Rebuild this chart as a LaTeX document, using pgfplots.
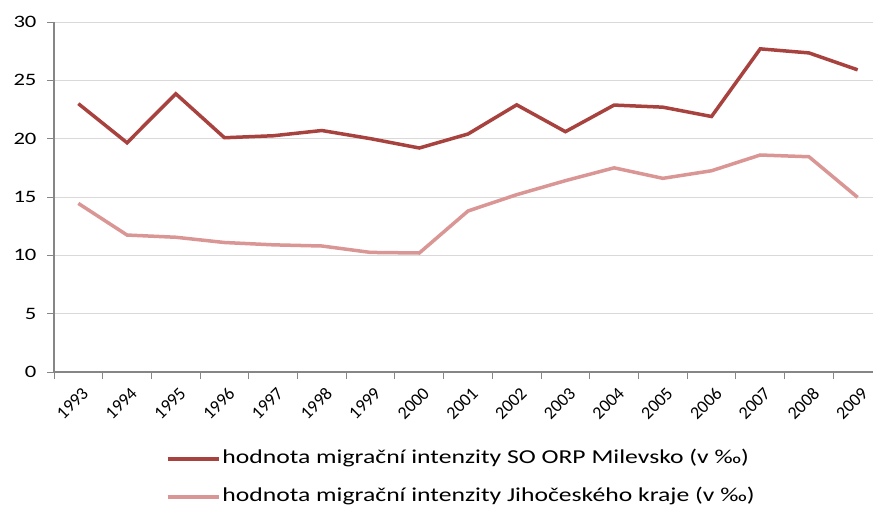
\documentclass[border=0pt]{standalone}
\usepackage{pgfplots}
\pgfplotsset{compat=1.18}
\usepackage{fontspec}
\setmainfont{Carlito}
\newfontfamily\stretchfont{Carlito}[FakeStretch=1.3]
\definecolor{dark}{HTML}{A8423F}
\definecolor{light}{HTML}{D99694}
\definecolor{gridc}{HTML}{D9D9D9}
\definecolor{axisgray}{HTML}{868686}
\begin{document}
\begin{tikzpicture}
\begin{axis}[
  at={(54bp,-372bp)}, anchor=south west,
  scale only axis, width=828bp, height=350bp,
  xmin=-0.5, xmax=16.5, ymin=0, ymax=30,
  axis x line*=bottom, axis y line*=left,
  axis line style={axisgray, line width=1.2bp, -},
  xtick={0,...,16},
  xticklabels={1993,1994,1995,1996,1997,1998,1999,2000,2001,2002,2003,2004,2005,2006,2007,2008,2009},
  major x tick style={draw=none},
  minor xtick={-0.5,0.5,...,16.5},
  ytick={0,5,...,30},
  ymajorgrids, grid style={gridc, line width=1bp},
  tick align=outside, major tick length=7bp, minor tick length=7bp,
  tick style={axisgray, line width=1bp},
  /pgf/number format/assume math mode=true,
  yticklabel style={font=\stretchfont\fontsize{17.5}{20}\selectfont, text=black, xshift=-7bp},
  xticklabel style={font=\fontsize{18}{20}\selectfont, text=black, rotate=45, anchor=north east, inner sep=0bp, yshift=-7bp, xshift=-3bp},
  legend style={at={(axis description cs:0.135,-0.303)}, anchor=west, draw=none,
    inner sep=0pt, font=\stretchfont\fontsize{19.8}{22}\selectfont, legend cell align=left,
    /tikz/row sep=15bp, nodes={inner sep=2bp, text height=14bp, text depth=5bp}},
  legend image code/.code={\draw[#1] (0bp,0bp) -- (51bp,0bp);},
]
\addplot[dark, line width=3.5bp] coordinates {
(0,23.0) (1,19.65) (2,23.85) (3,20.08) (4,20.25) (5,20.7) (6,20.0) (7,19.2)
(8,20.4) (9,22.9) (10,20.6) (11,22.88) (12,22.7) (13,21.9) (14,27.7) (15,27.35) (16,25.9)};
\addlegendentry{hodnota migrační intenzity SO ORP Milevsko (v ‰)}
\addplot[light, line width=3.5bp] coordinates {
(0,14.45) (1,11.74) (2,11.55) (3,11.1) (4,10.9) (5,10.8) (6,10.25) (7,10.2)
(8,13.8) (9,15.2) (10,16.4) (11,17.5) (12,16.6) (13,17.25) (14,18.6) (15,18.45) (16,14.97)};
\addlegendentry{hodnota migrační intenzity Jihočeského kraje (v ‰)}
\end{axis}
\pgfresetboundingbox
\useasboundingbox (0,0) rectangle (873bp,-506bp);
\end{tikzpicture}
\end{document}
